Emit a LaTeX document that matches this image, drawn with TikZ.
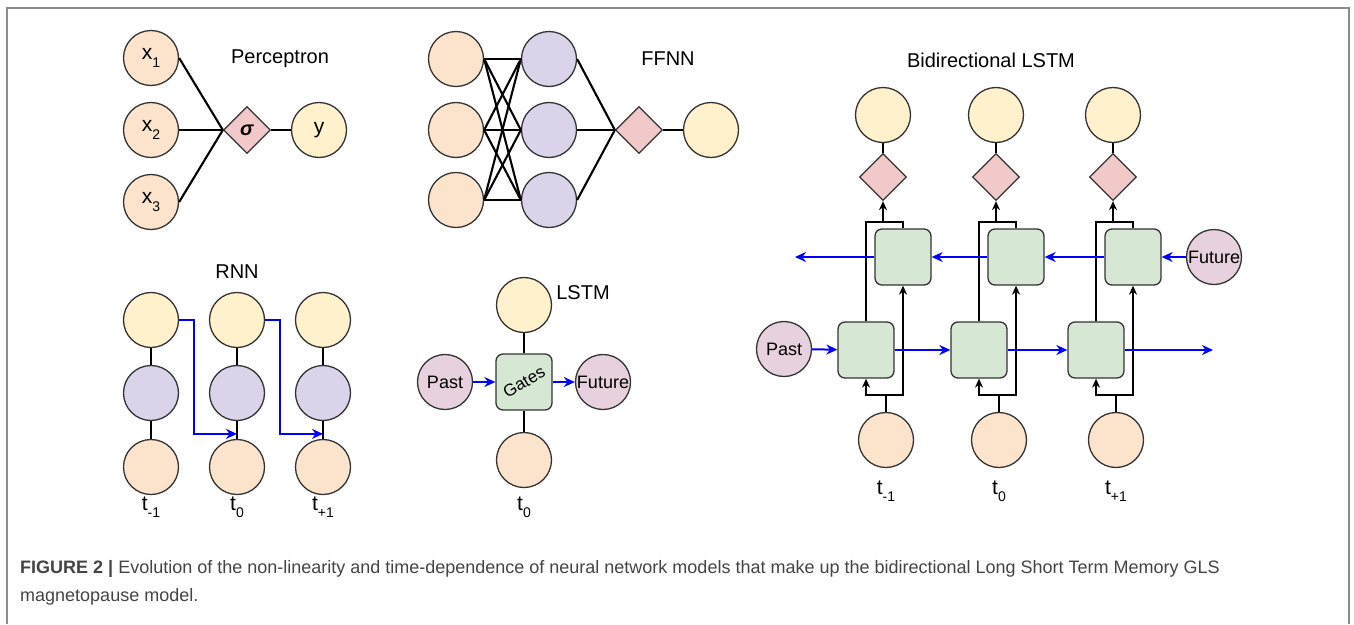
\documentclass[tikz,border=0pt]{standalone}
\usepackage{fontspec}
\setmainfont{Liberation Sans}
\usetikzlibrary{arrows.meta,shapes.geometric,calc}
\definecolor{inpeach}{HTML}{FCE4CC}
\definecolor{outyellow}{HTML}{FFF1CB}
\definecolor{hidlilac}{HTML}{DAD3EA}
\definecolor{actpink}{HTML}{F2C9C9}
\definecolor{cellgreen}{HTML}{D6E8D3}
\definecolor{statepink}{HTML}{E8D1DE}
\definecolor{edgegray}{HTML}{333333}
\definecolor{captext}{HTML}{444444}
\definecolor{framegray}{HTML}{8C8C8C}
\newcommand{\tsub}[1]{\raisebox{-0.35em}{\fontsize{14}{14}\selectfont #1}}
\tikzset{
  unit/.style={circle, draw=edgegray, line width=1.3pt, minimum size=55pt, inner sep=0pt,
    font=\fontsize{21}{21}\selectfont},
  inunit/.style={unit, fill=inpeach},
  hidunit/.style={unit, fill=hidlilac},
  outunit/.style={unit, fill=outyellow},
  stateunit/.style={unit, fill=statepink, font=\fontsize{18}{18}\selectfont},
  act/.style={diamond, draw=edgegray, line width=1.3pt, fill=actpink, minimum size=47pt, inner sep=0pt,
    font=\fontsize{20}{20}\selectfont},
  cell/.style={draw=edgegray, line width=1.3pt, fill=cellgreen, rounded corners=7pt,
    minimum size=56pt, inner sep=0pt},
  celltext/.style={font=\fontsize{17}{17}\selectfont, inner sep=0pt, rotate=30},
  wire/.style={line width=2.1pt, draw=black},
  upwire/.style={wire, -{Stealth[length=9pt, width=8pt]}},
  recur/.style={line width=2pt, draw=blue, -{Stealth[length=11pt, width=10pt]}},
  title/.style={font=\fontsize{20}{20}\selectfont},
  tlabel/.style={font=\fontsize{21}{21}\selectfont}
}

\begin{document}
\begin{tikzpicture}[x=1pt, y=-1pt]
  \useasboundingbox (0,0) rectangle (1354,624);
  \draw[framegray, line width=1.2pt] (7,624) -- (7,8) -- (1349,8) -- (1349,624);

  % perceptron
  \node[title] (ptitle) at (280,59) {Perceptron};
  \foreach \i/\y in {1/58,2/130,3/202}
    \node[inunit] (x\i) at (151,\y) {x\tsub{\i}};
  \node[act] (sig) at (247,130) {\textbf{\textit{σ}}};
  \node[outunit] (py) at (319,130) {y};
  \foreach \i in {1,2,3}
    \draw[wire] (x\i.east) -- (sig.west);
  \draw[wire] (sig) -- (py);

  % ffnn
  \node[title] (ftitle) at (668,59) {FFNN};
  \foreach \i/\y in {1/59,2/130,3/200} {
    \node[inunit] (fi\i) at (456,\y) {};
    \node[hidunit] (fh\i) at (549,\y) {};
  }
  \node[act] (fact) at (639,130) {};
  \node[outunit] (fout) at (711,130) {};
  \foreach \i in {1,2,3} {
    \foreach \j in {1,2,3}
      \draw[wire] (fi\i.east) -- (fh\j.west);
    \draw[wire] (fh\i.east) -- (fact.west);
  }
  \draw[wire] (fact) -- (fout);

  % rnn
  \node[title] (rtitle) at (237,272) {RNN};
  \foreach \c/\x/\t in {1/151/{-1},2/237/0,3/323/{+1}} {
    \node[outunit] (ro\c) at (\x,320) {};
    \node[hidunit] (rh\c) at (\x,393) {};
    \node[inunit] (ri\c) at (\x,467) {};
    \node[tlabel] (rt\c) at (\x,507) {t\tsub{\t}};
    \draw[wire] (ro\c) -- (rh\c);
    \draw[wire] (rh\c) -- (ri\c);
  }
  \draw[recur] (ro1.east) -- ++(15,0) |- ($(rh2.south)!0.72!(ri2.north)$);
  \draw[recur] (ro2.east) -- ++(15,0) |- ($(rh3.south)!0.72!(ri3.north)$);

  % lstm
  \node[title] (ltitle) at (583,293) {LSTM};
  \node[outunit] (lo) at (524,305) {};
  \node[cell] (gates) at (524,382) {};
  \node[celltext] (gtext) at (gates) {Gates};
  \node[stateunit] (lpast) at (445,382) {Past};
  \node[stateunit] (lfut) at (603,382) {Future};
  \node[inunit] (li) at (524,460) {};
  \node[tlabel] (lt) at (524,507) {t\tsub{0}};
  \draw[wire] (lo) -- (gates);
  \draw[wire] (gates) -- (li);
  \draw[recur] (lpast) -- (gates);
  \draw[recur] (gates) -- (lfut);

  % bidirectional lstm
  \node[title] (btitle) at (991,60) {Bidirectional LSTM};
  \foreach \c/\X/\t in {1/866/{-1},2/979/0,3/1096/{+1}} {
    \node[outunit] (bo\c) at (\X+17,115) {};
    \node[act] (ba\c) at (\X+17,177) {};
    \node[cell] (bb\c) at (\X+37,257) {};
    \node[cell] (bf\c) at (\X,350) {};
    \node[inunit] (bi\c) at (\X+20,440) {};
    \node[tlabel] (bt\c) at (\X+20,491) {t\tsub{\t}};
    \coordinate (bj\c) at (\X+20,395);
    \coordinate (bk\c) at (\X+17,222);
    \draw[wire] (bo\c) -- (ba\c);
    \draw[wire] (bi\c) -- (bj\c);
    \draw[upwire] (bj\c) -| (bf\c.south);
    \draw[upwire] (bj\c) -| (bb\c.south);
    \draw[wire] (bf\c.north) |- (bk\c) -| (bb\c.north);
    \draw[upwire] (bk\c) -- (ba\c.south);
  }
  \node[stateunit] (bpast) at (784,349) {Past};
  \node[stateunit] (bfut) at (1214,257) {Future};
  \coordinate (bfend) at (1213,350);
  \coordinate (bbend) at (795,257);
  \draw[recur] (bpast) -- (bf1);
  \draw[recur] (bf1) -- (bf2);
  \draw[recur] (bf2) -- (bf3);
  \draw[recur] (bf3) -- (bfend);
  \draw[recur] (bfut) -- (bb3);
  \draw[recur] (bb3) -- (bb2);
  \draw[recur] (bb2) -- (bb1);
  \draw[recur] (bb1) -- (bbend);

  % caption
  \node[anchor=west, text=captext, font=\fontsize{18}{18}\selectfont, inner sep=0pt] (cap1) at (20,569)
    {\textbf{FIGURE 2 |} Evolution of the non-linearity and time-dependence of neural network models that make up the bidirectional Long Short Term Memory GLS};
  \node[anchor=west, text=captext, font=\fontsize{18}{18}\selectfont, inner sep=0pt] (cap2) at (20,597)
    {magnetopause model.};
\end{tikzpicture}
\end{document}
